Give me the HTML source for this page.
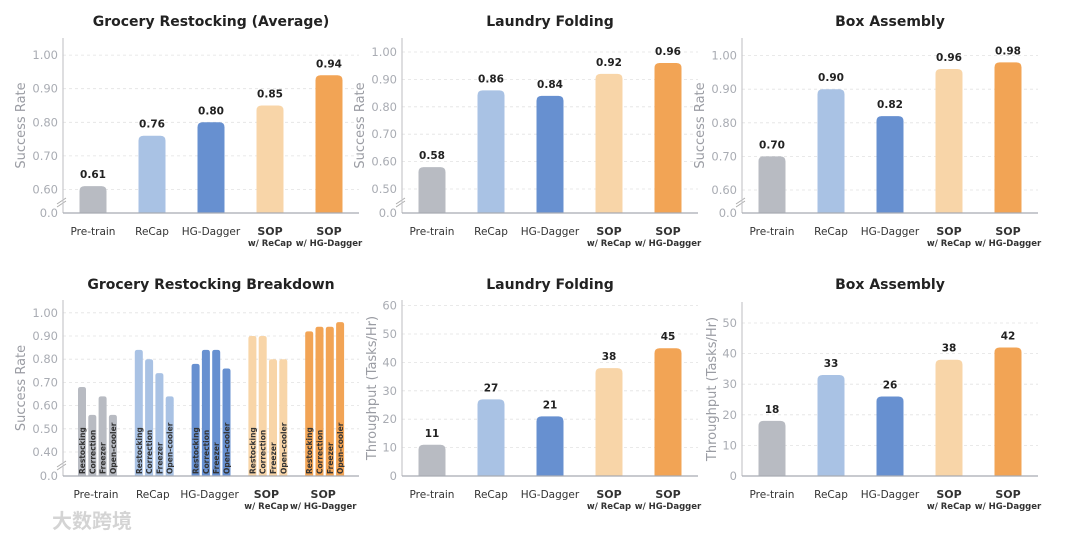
<!DOCTYPE html>
<html><head><meta charset="utf-8">
<style>
html,body{margin:0;padding:0;background:#fff;}
svg{display:block;font-family:"DejaVu Sans","Liberation Sans","Noto Sans CJK SC",sans-serif;}
</style></head>
<body>
<svg id="chart" width="1080" height="540" viewBox="0 0 1080 540" xmlns="http://www.w3.org/2000/svg">
<text x="52" y="528" font-size="20" fill="#d4d4d4" font-weight="bold" font-family="'Noto Sans CJK SC',sans-serif">大数跨境</text>
</svg>
<script>
const categories = ["Pre-train","ReCap","HG-Dagger","SOP","SOP"];
const subLabels = ["","","","w/ ReCap","w/ HG-Dagger"];
const colors = ["#b8bbc2","#a9c2e4","#6790d0","#f8d5a8","#f2a455"];
const groceryAvg = [0.61,0.76,0.80,0.85,0.94];
const laundrySR = [0.58,0.86,0.84,0.92,0.96];
const boxSR = [0.70,0.90,0.82,0.96,0.98];
const laundryTP = [11,27,21,38,45];
const boxTP = [18,33,26,38,42];
const breakdownTasks = ["Restocking","Correction","Freezer","Open-cooler"];
const breakdownValues = [
  [0.68,0.56,0.64,0.56],
  [0.84,0.80,0.74,0.64],
  [0.78,0.84,0.84,0.76],
  [0.90,0.90,0.80,0.80],
  [0.92,0.94,0.94,0.96]
];
const srTicks1 = [0.60,0.70,0.80,0.90,1.00];
const srTicks2 = [0.50,0.60,0.70,0.80,0.90,1.00];
const srTicks4 = [0.40,0.50,0.60,0.70,0.80,0.90,1.00];
const tpTicks5 = [0,10,20,30,40,50,60];
const tpTicks6 = [0,10,20,30,40,50];

const svg = document.getElementById('chart');
const NS = "http://www.w3.org/2000/svg";
function mk(tag, attrs, parent){
  const e = document.createElementNS(NS, tag);
  for (const k in attrs) e.setAttribute(k, attrs[k]);
  (parent||svg).appendChild(e);
  return e;
}

function panel(cfg){
  const g = mk('g', {});
  
  
  const sx = cfg.spine, by = cfg.bottom, right = sx + 296;
  const y = cfg.brk
    ? (v => cfg.lowY - (v - cfg.low) * cfg.k)
    : (v => by - v * cfg.k);
  const t = mk('text', {x: sx + 148, y: cfg.titleY, 'text-anchor': 'middle', 'font-size': 14, 'font-weight': 'bold', fill: '#222'}, g);
  t.textContent = cfg.title;
  
  
  cfg.ticks.forEach(v => {
    const yy = y(v);
    const gl = mk('line', {x1: sx, x2: right, y1: yy, y2: yy, stroke: '#e2e2e2', 'stroke-dasharray': '3,3', 'stroke-width': 0.8}, g);
    
    
    const tl = mk('text', {x: sx - 5, y: yy + 4, 'text-anchor': 'end', 'font-size': 11.5, fill: '#a9acb3'}, g);
    tl.textContent = cfg.brk ? v.toFixed(2) : String(v);
    
    
  });
  if (cfg.brk){
    const z = mk('text', {x: sx - 5, y: by + 4, 'text-anchor': 'end', 'font-size': 11.5, fill: '#a9acb3'}, g);
    z.textContent = '0.0';
    
    
    for (let i = 0; i < 2; i++){
      const bl = mk('line', {x1: sx - 6, y1: by - 6 - i*3, x2: sx + 3, y2: by - 12 - i*3, stroke: '#aaa', 'stroke-width': 0.9}, g);
      
      
    }
  }
  const yl = mk('text', {x: 0, y: 0, 'text-anchor': 'middle', 'font-size': 13, fill: '#9a9ca3', transform: `translate(${sx - cfg.ylOff},${(cfg.spineTop + by)/2}) rotate(-90)`}, g);
  yl.textContent = cfg.ylabel;
  
  
  if (cfg.grouped){
    cfg.values.forEach((vals, gi) => {
      const cx = cfg.firstCenter + gi * cfg.step;
      vals.forEach((v, si) => {
        const bx = cx - 20 + si * 10.3;
        const top = y(v);
        const r = mk('path', {d: barPath(bx, top, 8, by - top, 2.5), fill: colors[gi]}, g);
        
        
        const lt = mk('text', {x: 0, y: 0, 'font-size': 7.5, 'font-weight': 'bold', fill: '#333', transform: `translate(${bx + 7},${by - 2}) rotate(-90)`}, g);
        lt.textContent = breakdownTasks[si];
        
        
      });
    });
  } else {
    cfg.values.forEach((v, i) => {
      const cx = sx + 30 + i * 59;
      const top = y(v);
      const r = mk('path', {d: barPath(cx - 13.5, top, 27, by - top, 5), fill: colors[i]}, g);
      
      
      const vl = mk('text', {x: cx, y: top - 8, 'text-anchor': 'middle', 'font-size': 10.5, 'font-weight': 'bold', fill: '#222'}, g);
      vl.textContent = cfg.brk ? v.toFixed(2) : String(v);
      
      
    });
  }
  const ls = mk('line', {x1: sx, x2: sx, y1: cfg.spineTop, y2: by, stroke: '#c8c8cc', 'stroke-width': 1.2}, g);
  
  
  const bs = mk('line', {x1: sx, x2: right, y1: by, y2: by, stroke: '#a8abb2', 'stroke-width': 1.2}, g);
  
  
  categories.forEach((c, i) => {
    const cx = cfg.grouped ? cfg.firstCenter + i * cfg.step - 2 : sx + 30 + i * 59;
    const bold = !!subLabels[i];
    const xl = mk('text', {x: cx, y: by + 22, 'text-anchor': 'middle', 'font-size': bold ? 11 : 10.5, 'font-weight': bold ? 'bold' : 'normal', fill: '#333'}, g);
    xl.textContent = c;
    
    
    if (bold){
      const sl = mk('text', {x: cx, y: by + 33, 'text-anchor': 'middle', 'font-size': 8.5, 'font-weight': 'bold', fill: '#333'}, g);
      sl.textContent = subLabels[i];
      
      
    }
  });
}
function barPath(x, y, w, h, r){
  r = Math.min(r, w/2, h);
  return `M${x},${y+h} L${x},${y+r} Q${x},${y} ${x+r},${y} L${x+w-r},${y} Q${x+w},${y} ${x+w},${y+r} L${x+w},${y+h} Z`;
}

panel({name:'grocery-average-panel', title:'Grocery Restocking (Average)', titleY:26, spine:63, bottom:213, spineTop:38, brk:true, low:0.6, lowY:189.5, k:336, ticks:srTicks1, values:groceryAvg, ylabel:'Success Rate', ylOff:38});
panel({name:'laundry-success-panel', title:'Laundry Folding', titleY:26, spine:402, bottom:213, spineTop:38, brk:true, low:0.5, lowY:189, k:274, ticks:srTicks2, values:laundrySR, ylabel:'Success Rate', ylOff:38});
panel({name:'box-success-panel', title:'Box Assembly', titleY:26, spine:742, bottom:213, spineTop:38, brk:true, low:0.6, lowY:190, k:336, ticks:srTicks1, values:boxSR, ylabel:'Success Rate', ylOff:38});
panel({name:'grocery-breakdown-panel', title:'Grocery Restocking Breakdown', titleY:289, spine:63, bottom:476, spineTop:300, brk:true, low:0.4, lowY:452, k:232, ticks:srTicks4, values:breakdownValues, grouped:true, firstCenter:98, step:56.8, ylabel:'Success Rate', ylOff:38});
panel({name:'laundry-throughput-panel', title:'Laundry Folding', titleY:289, spine:402, bottom:476, spineTop:300, brk:false, k:2.84, ticks:tpTicks5, values:laundryTP, ylabel:'Throughput (Tasks/Hr)', ylOff:26});
panel({name:'box-throughput-panel', title:'Box Assembly', titleY:289, spine:742, bottom:476, spineTop:302, brk:false, k:3.06, ticks:tpTicks6, values:boxTP, ylabel:'Throughput (Tasks/Hr)', ylOff:26});
</script>
</body></html>
